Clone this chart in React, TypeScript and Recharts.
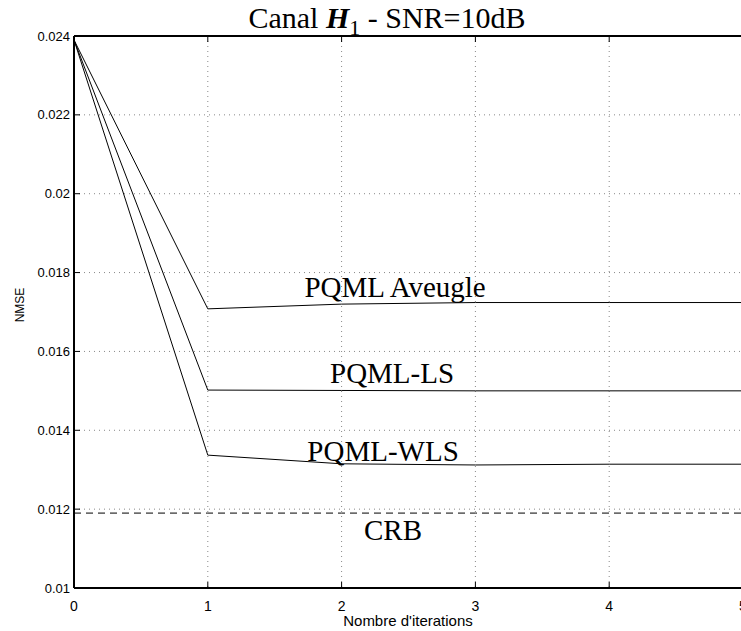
import {
  CartesianGrid,
  Line,
  LineChart,
  ReferenceDot,
  XAxis,
  YAxis,
} from "recharts";

// iterations
const iterations = [0, 1, 2, 3, 4, 5];

// NMSE per iteration
const pqmlAveugle = [0.0239, 0.01708, 0.0172, 0.01724, 0.01724, 0.01724];
const pqmlLS = [0.0239, 0.01502, 0.01501, 0.015, 0.015, 0.015];
const pqmlWLS = [0.0239, 0.01337, 0.01315, 0.01312, 0.01314, 0.01314];
const crb = [0.0119, 0.0119, 0.0119, 0.0119, 0.0119, 0.0119];

const xTicks = [0, 1, 2, 3, 4, 5];
const yTicks = [0.01, 0.012, 0.014, 0.016, 0.018, 0.02, 0.022, 0.024];

// curve names and where their captions sit (data coordinates)
const captions = [
  { text: "PQML Aveugle", x: 2.4, y: 0.01738 },
  { text: "PQML-LS", x: 2.377, y: 0.0152 },
  { text: "PQML-WLS", x: 2.31, y: 0.01322 },
  { text: "CRB", x: 2.384, y: 0.01122 },
];

const chartData = iterations.map((it, i) => ({
  it,
  aveugle: pqmlAveugle[i],
  ls: pqmlLS[i],
  wls: pqmlWLS[i],
  crb: crb[i],
}));

const SANS = "'Liberation Sans', Arial, Helvetica, sans-serif";
const SERIF = "'Liberation Serif', 'Times New Roman', serif";

function YTick(props: any) {
  const { x, y, payload } = props;
  return (
    <g>
      <line x1={x} y1={y} x2={x + 6} y2={y} stroke="#000" />
      <text
        x={x - 4}
        y={y}
        dy="0.35em"
        textAnchor="end"
        fontSize={13}
        fontFamily={SANS}
        fill="#000"
      >
        {payload.value}
      </text>
    </g>
  );
}

function XTick(props: any) {
  const { x, y, payload } = props;
  return (
    <g>
      <line x1={x} y1={y} x2={x} y2={y - 6} stroke="#000" />
      <text
        x={x}
        y={y + 23}
        textAnchor="middle"
        fontSize={14}
        fontFamily={SANS}
        fill="#000"
      >
        {payload.value}
      </text>
    </g>
  );
}

function TopTick(props: any) {
  const { x, y } = props;
  return <line x1={x} y1={y} x2={x} y2={y + 6} stroke="#000" />;
}

function Caption(text: string) {
  return (p: any) => (
    <text
      x={p.cx}
      y={p.cy}
      textAnchor="middle"
      fontSize={29}
      fontFamily={SERIF}
      fill="#000"
    >
      {text}
    </text>
  );
}

export default function App() {
  return (
    <div
      style={{
        position: "fixed",
        left: 0,
        top: 0,
        width: 741,
        height: 631,
        overflow: "hidden",
        background: "#fff",
      }}
    >
      <LineChart
        width={748}
        height={631}
        data={chartData}
        margin={{ top: 35, right: 5, bottom: 0, left: 0 }}
      >
        <CartesianGrid stroke="#888" strokeDasharray="1 4" />
        <XAxis
          dataKey="it"
          type="number"
          domain={[0, 5]}
          ticks={xTicks}
          interval={0}
          height={43}
          tickSize={0}
          tickMargin={0}
          tick={<XTick />}
          axisLine={{ stroke: "#000", strokeWidth: 2 }}
          tickLine={false}
        />
        <XAxis
          xAxisId="top"
          orientation="top"
          dataKey="it"
          type="number"
          domain={[0, 5]}
          ticks={xTicks}
          interval={0}
          height={1}
          tickSize={0}
          tickMargin={0}
          tick={<TopTick />}
          axisLine={{ stroke: "#000", strokeWidth: 2 }}
          tickLine={false}
        />
        <YAxis
          type="number"
          domain={[0.01, 0.024]}
          ticks={yTicks}
          interval={0}
          width={74}
          tickSize={0}
          tickMargin={0}
          tick={<YTick />}
          axisLine={{ stroke: "#000", strokeWidth: 2 }}
          tickLine={false}
          allowDataOverflow
        />
        <Line
          type="linear"
          dataKey="aveugle"
          stroke="#000"
          strokeWidth={1}
          dot={false}
          isAnimationActive={false}
        />
        <Line
          type="linear"
          dataKey="ls"
          stroke="#000"
          strokeWidth={1}
          dot={false}
          isAnimationActive={false}
        />
        <Line
          type="linear"
          dataKey="wls"
          stroke="#000"
          strokeWidth={1}
          dot={false}
          isAnimationActive={false}
        />
        <Line
          type="linear"
          dataKey="crb"
          stroke="#000"
          strokeWidth={1}
          strokeDasharray="7 5"
          dot={false}
          isAnimationActive={false}
        />
        {captions.map((c) => (
          <ReferenceDot
            key={c.text}
            x={c.x}
            y={c.y}
            r={0}
            shape={Caption(c.text)}
          />
        ))}
        <text
          x={387}
          y={28}
          textAnchor="middle"
          fontSize={30}
          fontFamily={SERIF}
          fill="#000"
        >
          Canal{" "}
          <tspan fontWeight="bold" fontStyle="italic">
            H
          </tspan>
          <tspan fontSize={22} dy={7}>
            1
          </tspan>
          <tspan dy={-7}> - SNR=10dB</tspan>
        </text>
        <text
          x={408}
          y={626}
          textAnchor="middle"
          fontSize={15}
          fontFamily={SANS}
          fill="#000"
        >
          Nombre d'iterations
        </text>
        <text
          x={20}
          y={305}
          textAnchor="middle"
          fontSize={12}
          fontFamily={SANS}
          fill="#000"
          transform="rotate(-90 20 305)"
          dy="0.35em"
        >
          NMSE
        </text>
      </LineChart>
    </div>
  );
}
